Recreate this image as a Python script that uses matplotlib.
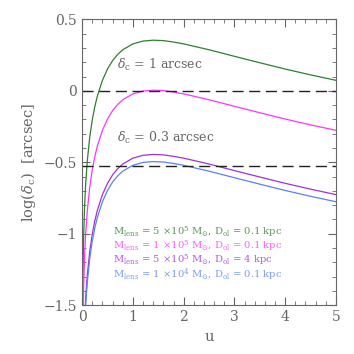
import matplotlib
matplotlib.use("Agg")
import matplotlib.pyplot as plt
from matplotlib.ticker import MultipleLocator

plt.rcParams['font.family'] = ['DejaVu Serif']
plt.rcParams['mathtext.fontset'] = 'dejavuserif'

# values
u = [0.01, 0.02, 0.03, 0.05, 0.07, 0.1, 0.15, 0.2, 0.25, 0.3, 0.4, 0.5, 0.6,
     0.7, 0.8, 1.0, 1.2, 1.4, 1.6, 1.8, 2.0, 2.5, 3.0, 3.5, 4.0, 4.5, 5.0]

green = [-1.495, -1.194, -1.018, -0.796, -0.650, -0.497, -0.323, -0.202, -0.110,
         -0.036, 0.074, 0.153, 0.212, 0.255, 0.288, 0.329, 0.349, 0.355, 0.352,
         0.342, 0.329, 0.288, 0.242, 0.197, 0.153, 0.112, 0.074]
magenta = [-1.845, -1.544, -1.368, -1.146, -1.000, -0.847, -0.673, -0.552, -0.460,
           -0.386, -0.276, -0.197, -0.138, -0.095, -0.062, -0.021, -0.001, 0.005,
           0.002, -0.008, -0.021, -0.062, -0.108, -0.153, -0.197, -0.238, -0.276]
purple = [-2.295, -1.994, -1.818, -1.596, -1.450, -1.297, -1.123, -1.002, -0.910,
          -0.836, -0.726, -0.647, -0.588, -0.545, -0.512, -0.471, -0.451, -0.445,
          -0.448, -0.458, -0.471, -0.512, -0.558, -0.603, -0.647, -0.688, -0.726]
blue = [-2.345, -2.044, -1.868, -1.646, -1.500, -1.347, -1.173, -1.052, -0.960,
        -0.886, -0.776, -0.697, -0.638, -0.595, -0.562, -0.521, -0.501, -0.495,
        -0.498, -0.508, -0.521, -0.562, -0.608, -0.653, -0.697, -0.738, -0.776]

thresholds = [0.0, -0.523]
threshold_labels = [r'$\delta_{\rm c}$ = 1 arcsec', r'$\delta_{\rm c}$ = 0.3 arcsec']

labels = [r'M$_{\rm lens}$ = 5 $\times$10$^5$ M$_{\odot}$, D$_{\rm ol}$ = 0.1 kpc',
          r'M$_{\rm lens}$ = 1 $\times$10$^5$ M$_{\odot}$, D$_{\rm ol}$ = 0.1 kpc',
          r'M$_{\rm lens}$ = 5 $\times$10$^5$ M$_{\odot}$, D$_{\rm ol}$ = 4 kpc',
          r'M$_{\rm lens}$ = 1 $\times$10$^4$ M$_{\odot}$, D$_{\rm ol}$ = 0.1 kpc']
colors = ['#2f7f2f', '#ff33ff', '#a030e0', '#5a82f0']
series = [green, magenta, purple, blue]

grey = '#666666'

fig = plt.figure(figsize=(3.54, 3.54), dpi=100)
ax = fig.add_axes([0.232, 0.138, 0.717, 0.807])

for ys, c in zip(series, colors):
    ax.plot(u, ys, color=c, lw=0.9)

for t in thresholds:
    ax.axhline(t, color='#222222', lw=1.0, dashes=(8, 4))

ax.text(0.69, 0.18, threshold_labels[0], color=grey, fontsize=9, va='center')
ax.text(0.69, -0.33, threshold_labels[1], color=grey, fontsize=9, va='center')

for i, (lab, c) in enumerate(zip(labels, colors)):
    ax.text(0.6, -0.985 - i * 0.1, lab, color=c, fontsize=7.2, alpha=0.8,
            va='center')

ax.set_xlim(0, 5)
ax.set_ylim(-1.5, 0.5)
ax.xaxis.set_major_locator(MultipleLocator(1))
ax.xaxis.set_minor_locator(MultipleLocator(0.2))
ax.yaxis.set_major_locator(MultipleLocator(0.5))
ax.yaxis.set_minor_locator(MultipleLocator(0.1))
ax.set_yticks([0.5, 0, -0.5, -1, -1.5])
ax.set_yticklabels(['0.5', '0', '\u22120.5', '\u22121', '\u22121.5'])
ax.tick_params(which='both', direction='in', top=True, right=True, colors=grey,
               labelcolor=grey, labelsize=10)
ax.tick_params(which='major', length=6)
ax.tick_params(which='minor', length=3)
for s in ax.spines.values():
    s.set_color(grey)

ax.set_xlabel('u', color=grey, fontsize=10.5)
ax.set_ylabel(r'log($\delta_{\rm c}$)  [arcsec]', color=grey, fontsize=10.5)

fig.savefig('out.png', dpi=100)
